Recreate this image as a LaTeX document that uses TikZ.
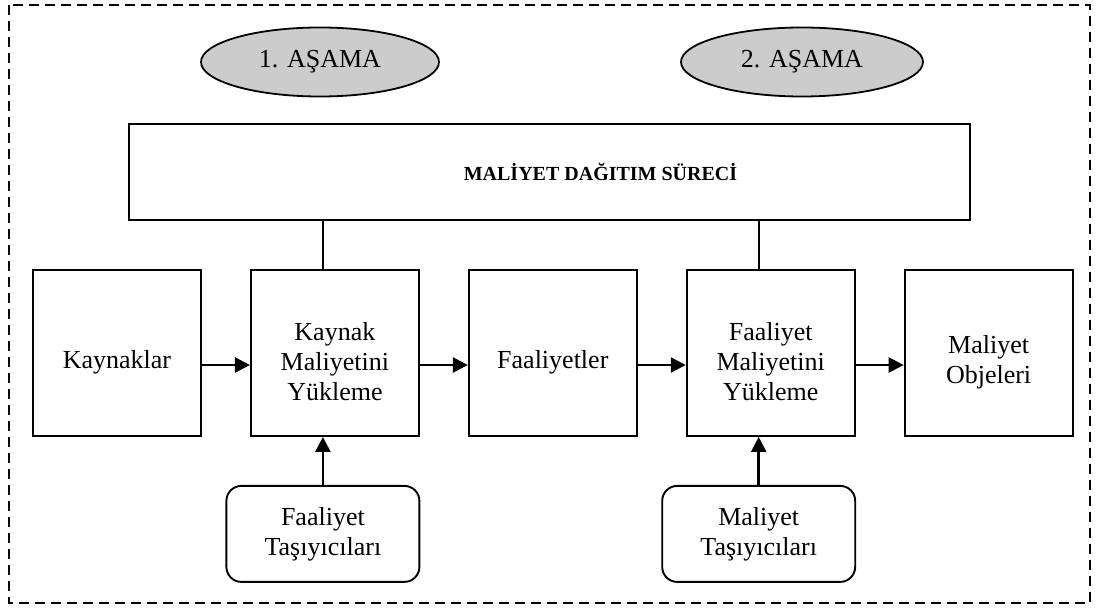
\documentclass[tikz,border=0pt]{standalone}
\usepackage{fontspec}
\setmainfont{Liberation Serif}
\usetikzlibrary{arrows.meta,positioning,shapes.geometric}

\begin{document}
\begin{tikzpicture}[
        x=1pt, y=-1pt,
        node distance=48pt and 48pt,
        font=\fontsize{26}{30}\selectfont,
        frame_box/.style={draw, dash pattern=on 10pt off 6pt, line width=1.6pt},
        stage_node/.style={draw, ellipse, fill=gray!40, line width=1.8pt, minimum width=238pt, minimum height=69pt, inner sep=0pt},
        process_box/.style={draw, rectangle, line width=1.9pt, minimum width=841pt, minimum height=96pt},
        step_box/.style={draw, rectangle, line width=1.9pt, minimum width=168pt, minimum height=166pt},
        step_text/.style={align=center, inner sep=0pt},
        driver_box/.style={draw, rectangle, rounded corners=15pt, line width=1.9pt, minimum width=193pt, minimum height=96pt, align=center},
        link/.style={line width=1.9pt},
        arrow/.style={-{Triangle[length=15pt, width=15pt]}, line width=2.5pt}
    ]
        \useasboundingbox (0,0) rectangle (1096,612);
        \draw[frame_box] (9,5) rectangle (1090,603);

        \node[stage_node] (stage1) at (320,62) {1. AŞAMA};
        \node[stage_node, minimum width=242pt] (stage2) at (802,62) {2. AŞAMA};

        \node[process_box] (process) at (549.5,172) {};
        \node[font=\fontsize{20}{24}\selectfont\bfseries] (processtitle) at ([xshift=51pt]process.center) {MALİYET DAĞITIM SÜRECİ};

        \node[step_box] (resources) at (117,353) {};
        \node[step_box, right=of resources] (resload) {};
        \node[step_box, right=of resload] (activities) {};
        \node[step_box, right=of activities] (actload) {};
        \node[step_box, right=of actload] (objects) {};

        \foreach \name/\txt in {resources/Kaynaklar, resload/{Kaynak\\Maliyetini\\Yükleme}, activities/Faaliyetler, actload/{Faaliyet\\Maliyetini\\Yükleme}, objects/{Maliyet\\Objeleri}}
            \node[step_text] (\name text) at ([yshift=-9pt]\name.center) {\txt};

        \node[driver_box, below=48pt of resload, xshift=-12pt] (actdrivers) {Faaliyet\\Taşıyıcıları};
        \node[driver_box, below=48pt of actload, xshift=-12pt] (costdrivers) {Maliyet\\Taşıyıcıları};

        \draw[link] ([xshift=-12pt]resload.north) -- ([xshift=-12pt]resload.north |- process.south);
        \draw[link] ([xshift=-12pt]actload.north) -- ([xshift=-12pt]actload.north |- process.south);

        \draw[arrow] ([yshift=-12pt]resources.east) -- ([yshift=-12pt]resload.west);
        \draw[arrow] ([yshift=-12pt]resload.east) -- ([yshift=-12pt]activities.west);
        \draw[arrow] ([yshift=-12pt]activities.east) -- ([yshift=-12pt]actload.west);
        \draw[arrow] ([yshift=-12pt]actload.east) -- ([yshift=-12pt]objects.west);

        \draw[arrow] (actdrivers.north) -- (actdrivers.north |- resload.south);
        \draw[arrow] (costdrivers.north) -- (costdrivers.north |- actload.south);
    \end{tikzpicture}
\end{document}
